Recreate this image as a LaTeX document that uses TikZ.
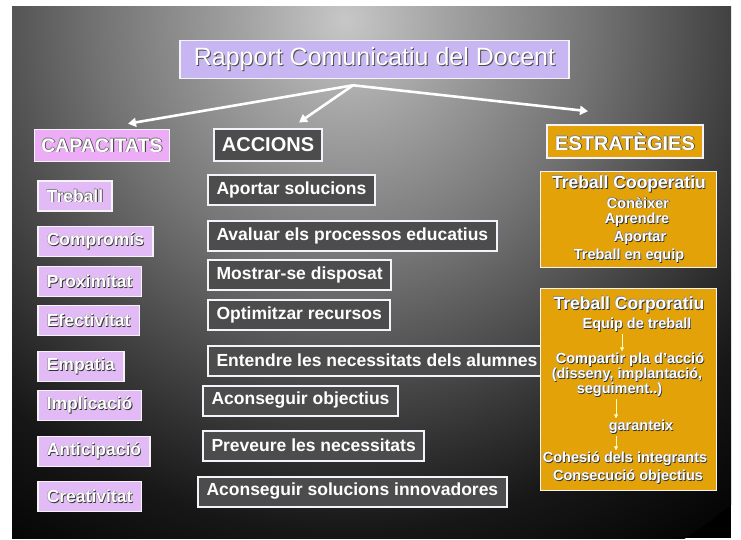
\documentclass[tikz,border=0pt]{standalone}
\usepackage{fontspec}
\setmainfont{Liberation Sans}
\usepackage{xcolor}
\usepackage{tikz}
\usetikzlibrary{arrows.meta,calc}

\definecolor{titlefill}{RGB}{200,182,242}
\definecolor{capfill}{RGB}{226,186,246}
\definecolor{caphead}{RGB}{236,172,246}
\definecolor{accfill}{RGB}{76,76,76}
\definecolor{estfill}{RGB}{226,162,8}
\definecolor{boxline}{RGB}{246,242,250}

% slide background: light at the top, black towards the corners
\pgfdeclareradialshading{slidebg}{\pgfpoint{0bp}{0bp}}{gray(0bp)=(0.78); gray(4bp)=(0.64); gray(10bp)=(0.45); gray(14.3bp)=(0.3); gray(17.5bp)=(0.19); gray(20.6bp)=(0.09); gray(25bp)=(0.02); gray(50bp)=(0.0)}

% text with a drop shadow, and with a dark rim
\newcommand{\shtxt}[1]{\makebox[0pt][l]{\hspace{1pt}\raisebox{-1pt}{\textcolor{black!70}{#1}}}#1}
\newcommand{\rimtxt}[1]{\makebox[0pt][l]{\hspace{-0.5pt}\raisebox{0.5pt}{\textcolor{black!45}{#1}}}\makebox[0pt][l]{\hspace{0.8pt}\raisebox{-0.8pt}{\textcolor{black!80}{#1}}}#1}

\tikzset{
    titlebox/.style={draw=boxline, line width=1.6pt, fill=titlefill, text=white,
        font=\fontsize{25}{28}\selectfont, inner xsep=14pt, minimum height=38pt},
    caphd/.style={draw=boxline, line width=1.6pt, fill=caphead, text=white,
        font=\bfseries\fontsize{19.5}{22}\selectfont, inner xsep=7pt, minimum height=32pt},
    capbox/.style={draw=boxline, line width=1.6pt, fill=capfill, text=white,
        font=\bfseries\fontsize{17.5}{20}\selectfont, inner xsep=9pt, minimum height=30pt, anchor=west},
    acchd/.style={draw=boxline, line width=2pt, fill=accfill, text=white,
        font=\bfseries\fontsize{20}{22}\selectfont, inner xsep=8pt, minimum height=32pt},
    accbox/.style={draw=boxline, line width=2pt, fill=accfill, text=white,
        font=\bfseries\fontsize{17.5}{20}\selectfont, inner xsep=8.5pt, minimum height=30pt, anchor=west},
    esthd/.style={draw=boxline, line width=1.6pt, fill=estfill, text=white,
        font=\bfseries\fontsize{20}{22}\selectfont, inner xsep=8pt, minimum height=33pt},
    estbox/.style={draw=boxline, line width=1.6pt, fill=estfill, minimum width=176pt},
    esttitle/.style={text=white, font=\bfseries\fontsize{17.5}{20}\selectfont, inner sep=0pt},
    estline/.style={text=white, font=\bfseries\fontsize{14.5}{16}\selectfont, inner sep=0pt},
    mainarrow/.style={draw=white, line width=2.6pt, -{Triangle[width=9pt,length=8pt]}},
    smallarrow/.style={draw=yellow!25!white, line width=0.8pt, -{Triangle[width=4pt,length=4pt]}, shorten <=1pt, shorten >=1pt},
}

\begin{document}
\begin{tikzpicture}[x=1pt, y=-1pt]
    \useasboundingbox (0,0) rectangle (741,540);

    % slide background
    \fill[white] (0,0) rectangle (741,540);
    \begin{scope}
        \clip (12,7) rectangle (731,538);
        \fill[black] (12,7) rectangle (731,538);
        \shade[shading=slidebg] (345,20) circle (620pt);
    \end{scope}

    % Title
    \node[titlebox] (title) at (374.5,59.5) {\shtxt{Rapport Comunicatiu del Docent}};
    \coordinate (hub) at ([xshift=-21.5pt,yshift=-6pt]title.south);

    % Column headers
    \node[caphd] (capac) at (102,145.5) {\rimtxt{CAPACITATS}};
    \node[acchd] (accions) at (268,145.5) {\shtxt{ACCIONS}};
    \node[esthd] (estrat) at (625,141.5) {\rimtxt{ESTRATÈGIES}};

    % Arrows from the title
    \draw[mainarrow] (hub) -- ([xshift=26pt,yshift=5pt]capac.north);
    \draw[mainarrow] (hub) -- ([xshift=31pt,yshift=6pt]accions.north);
    \draw[mainarrow] (hub) -- ([xshift=-37pt,yshift=13pt]estrat.north);

    % Capacitats
    \node[capbox] (treball) at (37,196) {\rimtxt{Treball}};
    \node[capbox] (comprom) at (37,241.5) {\rimtxt{Compromís}};
    \node[capbox] (proxim) at (37,281.5) {\rimtxt{Proximitat}};
    \node[capbox] (efect) at (37,320.5) {\rimtxt{Efectivitat}};
    \node[capbox] (empatia) at (37,366.5) {\rimtxt{Empatia}};
    \node[capbox] (implic) at (37,405.5) {\rimtxt{Implicació}};
    \node[capbox] (antic) at (37,451.5) {\rimtxt{Anticipació}};
    \node[capbox] (creat) at (37,496.5) {\rimtxt{Creativitat}};

    % Accions
    \node[accbox] (aportar) at (207,190) {\shtxt{Aportar solucions}};
    \node[accbox] (avaluar) at (207,236) {\shtxt{Avaluar els processos educatius}};
    \node[accbox] (mostrar) at (207,275) {\shtxt{Mostrar-se disposat}};
    \node[accbox] (optim) at (207,315) {\shtxt{Optimitzar recursos}};
    \node[accbox] (entendre) at (207,361) {\shtxt{Entendre les necessitats dels alumnes}};
    \node[accbox] (aconsobj) at (202,401) {\shtxt{Aconseguir objectius}};
    \node[accbox] (preveure) at (202,446) {\shtxt{Preveure les necessitats}};
    \node[accbox] (aconssol) at (197,492) {\shtxt{Aconseguir solucions innovadores}};

    % Estrategies: treball cooperatiu
    \node[estbox, minimum height=96pt] (coop) at (628.5,219.5) {};
    \node[esttitle] (cooptitle) at (629,184) {\rimtxt{Treball Cooperatiu}};
    \node[estline] (coneix) at (638,203) {\rimtxt{Conèixer}};
    \node[estline] (aprendre) at (637,220) {\rimtxt{Aprendre}};
    \node[estline] (aport) at (640,238) {\rimtxt{Aportar}};
    \node[estline] (equipc) at (629,256) {\rimtxt{Treball en equip}};

    % Estrategies: treball corporatiu
    \node[estbox, minimum height=202pt] (corp) at (628.5,389.5) {};
    \node[esttitle] (corptitle) at (629,305) {\rimtxt{Treball Corporatiu}};
    \node[estline] (equip) at (637,325) {\rimtxt{Equip de treball}};
    \node[estline] (compart) at (630,360) {\rimtxt{Compartir pla d'acció}};
    \node[estline] (disseny) at (627,375) {\rimtxt{(disseny, implantació,}};
    \node[estline] (segui) at (619.5,390) {\rimtxt{seguiment..)}};
    \node[estline] (garant) at (641,427) {\rimtxt{garanteix}};
    \node[estline] (cohes) at (625,459) {\rimtxt{Cohesió dels integrants}};
    \node[estline] (consec) at (628,477) {\rimtxt{Consecució objectius}};

    \draw[smallarrow] ([xshift=-15pt]equip.south) -- ([xshift=-15pt]equip.south |- compart.north);
    \draw[smallarrow] ([xshift=-3.5pt]segui.south) -- ([xshift=-3.5pt]segui.south |- garant.north);
    \draw[smallarrow] ([xshift=-25pt]garant.south) -- ([xshift=-25pt]garant.south |- cohes.north);

\end{tikzpicture}
\end{document}
